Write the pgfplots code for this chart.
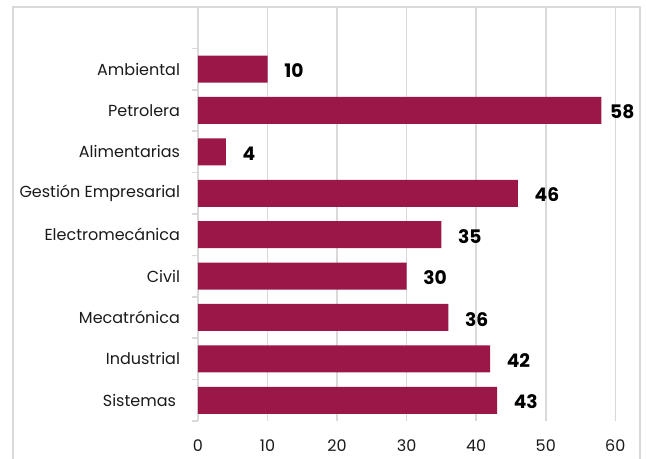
\documentclass[border=0pt]{standalone}
\usepackage{pgfplots}
\pgfplotsset{compat=1.18}
\usepackage{fontspec}
\setmainfont{Poppins}
\definecolor{barcol}{HTML}{9A1748}
\definecolor{gridcol}{HTML}{D9D9D9}
\definecolor{txt}{HTML}{1A1A1A}

\begin{document}
\begin{tikzpicture}
% page is 646x459 px, 1px = 0.75pt
\useasboundingbox (0,0) rectangle (484.5pt,-344.25pt);
\draw[gridcol, line width=1.5pt] (10.1pt,-5.25pt) rectangle (480pt,-400pt);
\begin{axis}[
    at={(148.5pt,-315.75pt)}, anchor=south west,
    scale only axis,
    width=313pt, height=310.5pt,
    xbar, bar width=20.25pt, bar shift=0pt,
    xmin=0, xmax=60,
    ymin=-0.5, ymax=9.5,
    xtick={0,10,...,60},
    ytick={0,...,8},
    yticklabels={Sistemas\hspace*{3pt}, Industrial, Mecatrónica, Civil, Electromecánica,
                 Gestión Empresarial, Alimentarias, Petrolera, Ambiental},
    minor ytick={-0.5,0.5,...,8.5},
    axis y line*=left,
    axis x line*=bottom,
    x axis line style={draw=none},
    y axis line style={gridcol, line width=1.5pt},
    xmajorgrids, grid style={gridcol, line width=1.1pt},
    major tick length=0pt,
    minor tick length=4.5pt,
    minor tick style={gridcol, line width=1.1pt},
    tick label style={font=\fontsize{12}{14}\selectfont, text=txt},
    yticklabel style={xshift=-10pt},
    xticklabel style={yshift=-10.5pt},
    /pgf/number format/assume math mode=true,
    clip=false,
]
\addplot[fill=barcol, draw=none] coordinates {
    (43,0) (42,1) (36,2) (30,3) (35,4) (46,5) (4,6) (58,7) (10,8)
};
% value labels
\addplot[draw=none, fill=none, nodes near coords,
    every node near coord/.append style={anchor=west, xshift=9pt, yshift=-1.2pt,
        font=\bfseries\fontsize{14}{16}\selectfont, text=black}] coordinates {
    (43,0) (42,1) (36,2) (30,3) (35,4) (46,5) (4,6) (10,8)
};
\addplot[draw=none, fill=none, nodes near coords,
    every node near coord/.append style={anchor=west, xshift=3pt, yshift=-1.2pt,
        font=\bfseries\fontsize{14}{16}\selectfont, text=black}] coordinates {
    (58,7)
};
\end{axis}
\end{tikzpicture}
\end{document}
